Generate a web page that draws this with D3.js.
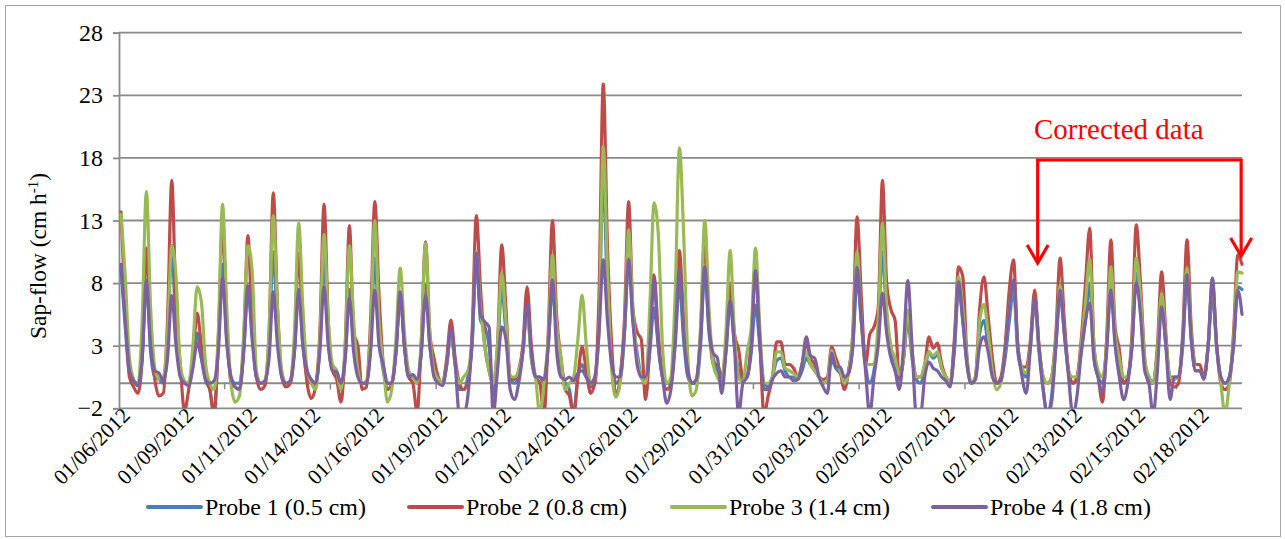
<!DOCTYPE html>
<html>
<head>
<meta charset="utf-8">
<script src="https://cdn.jsdelivr.net/npm/d3@7"></script>
<style>
  html, body { margin: 0; padding: 0; background: #fff; }
  svg { display: block; }
</style>
</head>
<body>
<svg id="chart" width="1285" height="539"></svg>
<script>
// Sap-flow readings, one sample every 4 hours starting 01/06/2012.
const tickLabels = ["01/06/2012", "01/09/2012", "01/11/2012", "01/14/2012", "01/16/2012", "01/19/2012",
  "01/21/2012", "01/24/2012", "01/26/2012", "01/29/2012", "01/31/2012", "02/03/2012", "02/05/2012",
  "02/07/2012", "02/10/2012", "02/13/2012", "02/15/2012", "02/18/2012"];
const labelEvery = 15;   // samples between date labels
const tickEvery = 25;    // samples between axis tick marks
const yTicks = [-2, 3, 8, 13, 18, 23, 28];
const seriesNames = ["Probe 1 (0.5 cm)", "Probe 2 (0.8 cm)", "Probe 3 (1.4 cm)", "Probe 4 (1.8 cm)"];
const seriesColors = ["#4A7EBB", "#BE4B48", "#98B954", "#7D60A0"];

const probe1 = [
  9.2, 4.5, 0.8,
  0.2, 0, 2, 8.0, 2.5, 0.5,
  0.3, 0, 3, 11.0, 4, 1,
  0, 0, 1.5, 4.0, 2, 0.2,
  -0.5, -2.5, 3, 9.5, 3.5, 0.5,
  0, 0, 2.5, 7.5, 4, 0.5,
  0, 0, 3, 10.5, 4, 0.8,
  0, 0, 2.5, 7.5, 3, 0.5,
  0, 0, 3, 9.85, 3.5, 1,
  0.8, -0.5, 2, 7.5, 3, 1,
  0, 0, 3, 10.0, 4, 1,
  0, 0, 2.5, 7, 3, 0.5,
  0.5, 0, 2.5, 7.85, 3, 1,
  0.3, 0, 1.5, 4, 1.5, -0.5,
  -0.5, 0.5, 3, 10, 5, 4.5,
  3, -1, 2, 7.6, 4, 0.5,
  0, 0.5, 2.5, 6, 2, 0.5,
  0.5, 0, 3, 7.5, 4, 1.5,
  0, -0.5, -2.5, 0.5, 1.5, 0.5,
  -0.3, 0, 5, 16.4, 7, 2,
  0, 0.5, 4, 10, 5, 2.5,
  0.5, 0, 2.5, 6, 3, 0.5,
  0, 0, 3, 8, 3.5, 0.5,
  0, 0, 3, 9, 4, 2,
  1, 0, 2.5, 6.5, 3, 1,
  0.3, 0.5, 2.5, 6.25, 3, 0,
  -0.3, 0.5, 1.8, 2, 1, 0.5,
  0.5, 0.3, 1.0, 2, 1.5, 1,
  0.5, 0, 0.3, 1.8, 1.2, 0.8,
  0.3, 0.8, 3, 8.25, 5, 1.5,
  0, 1, 4, 10.5, 5, 2.5,
  1, 0.3, 2, 5, 2, 0.3,
  0, 1, 2.5, 2, 2.3, 1.2,
  0.5, 0, 2.5, 7.5, 5, 1.5,
  0, 0.5, 4, 5, 3, 1,
  0, 0.3, 2, 5, 7.5, 2.5,
  1, 0.5, 3, 6.5, 2.5, -0.5,
  -2.5, -1, 3, 7, 4, 1,
  0, 0.5, 2.5, 5, 8, 2,
  0.5, 0, 3, 8, 3.5, 2,
  0, 0.5, 3, 8.8, 6, 1.5,
  0.5, 0, 2.5, 6.5, 3, 0.5,
  0.5, 0.5, 3, 8.5, 3.5, 1,
  1, 0.5, 3, 7, 3, 0.5,
  0, 0.5, 3, 7.7, 7.5
];

const probe2 = [
  13.7, 6.0, 0.5,
  -0.3, -0.8, 2, 10.8, 4, 0.3,
  -1.0, -0.8, 5, 16.2, 6, 1.5,
  -2.2, -0.5, 2, 5.6, 3, 0.5,
  -0.5, -2.5, 3.5, 12.6, 5, 0,
  -0.3, -0.5, 3, 11.8, 4.5, 0.5,
  -0.5, -0.2, 4, 15.2, 6, 0.5,
  -0.3, 0, 3, 10.4, 4, 0,
  -1.2, -0.3, 4, 14.3, 5, 1,
  0.3, -1.5, 3, 12.6, 4, 3,
  -0.5, -0.3, 5, 14.5, 7, 1.5,
  -0.5, 0, 2.5, 7.2, 3, 0.5,
  0, -2.3, 3.5, 11.3, 4, 2,
  0.5, 0, 2, 5.05, 2, 0,
  -0.5, 0, 4, 13.4, 7.5, 3,
  1.0, 0, 3, 11.05, 6, 0.5,
  0.3, 1, 3, 7.7, 3, 0.5,
  0, -2.5, 4, 13.0, 5.3, 2,
  -0.5, -1, -2.5, 0.5, 2.9, 1,
  -0.8, 0, 7, 23.9, 11, 3,
  -1, 0.5, 5, 14.5, 6, 4.1,
  3.5, -1.3, 3, 8.65, 4, 0.5,
  -0.5, 0, 4, 10.6, 5, 1,
  0, 0.3, 4, 11.5, 5, 1.5,
  1.5, 0.5, 3, 8, 4, 2.7,
  0.5, 0.5, 3.5, 9.5, 3.5, -2.5,
  -1, 0.5, 3.3, 3.3, 1.5, 1.5,
  1.2, 0.5, 1.5, 3.2, 2, 1.5,
  0.5, 0.3, 0.5, 2.9, 2, 1,
  -0.5, 1, 4, 13.3, 7, 1.5,
  3.9, 4.5, 6, 16.2, 8, 5.9,
  5, 0.5, 2, 5.8, 2.5, 0.5,
  0.5, 1.5, 3.7, 2.8, 3.2, 1.5,
  0.5, 0, 3.5, 9.3, 8.5, 2,
  0, 0.5, 6, 8.5, 5.3, 2,
  0, 0.5, 3, 7.5, 9.85, 3,
  1.3, 1.3, 3.5, 7.45, 3, 0.5,
  0, 0.5, 4, 10.0, 5, 1,
  0, 0.5, 3.5, 8, 12.4, 3,
  0.5, -1.5, 3.5, 11.45, 4.5, 2.7,
  0, 0.5, 4, 12.65, 8, 2,
  0, 0, 3, 8.9, 4, 0,
  -0.3, 0, 4, 11.45, 4.5, 1.5,
  1.5, 0.5, 3, 8.0, 3, 0,
  -0.5, 0, 4, 10.25, 9.5
];

const probe3 = [
  13.5, 8.5, 2.0,
  0.3, -0.2, 5, 15.3, 6, 1.2,
  0.3, 0.5, 4, 11.0, 8.5, 1.5,
  0.2, 0, 3, 7.7, 6.5, 1.5,
  0, -0.5, 4, 14.3, 6, 0,
  -1.5, -1.0, 4, 11.0, 9, 1.0,
  0, 0.2, 4, 13.4, 6, 1,
  0, 0.2, 4, 12.8, 6, 1,
  0, -0.5, 3.5, 11.9, 5, 1.5,
  1, -0.5, 3, 11.0, 5, 1,
  0, 0.2, 4, 13.0, 5, 1.5,
  -1.5, -0.5, 3.5, 9.2, 4, 1,
  0.5, 0, 3.5, 11.2, 4, 1,
  0.3, 0, 1.5, 4, 1.5, 0,
  0.5, 1.0, 3.5, 10.5, 6, 3,
  1, 0, 3, 8.8, 5, 0.5,
  0.5, 1, 2.5, 6, 2, 0.5,
  -2.5, 0, 3.5, 10.25, 4.5, 2,
  -0.5, 0, 0.5, 3.5, 7.05, 3,
  0, 0.5, 4, 18.9, 9, 1,
  -1.1, 0, 4, 12.25, 6, 2,
  0.5, 0, 6, 14.4, 12, 3,
  0, 0.5, 7, 18.8, 12, 2,
  -1, -0.5, 4.5, 13.0, 6, 1.5,
  0.5, 0, 4, 10.6, 4, 0.5,
  0, 2.5, 4.5, 10.8, 4.5, 0,
  0, 0.5, 2.5, 2.5, 1.2, 1,
  0.8, 0.5, 1.5, 2.5, 1.5, 1,
  0.5, 0, 0.3, 2.6, 1.5, 1,
  0, 0.8, 4, 10.5, 5, 1.5,
  1.5, 1.5, 5, 12.8, 6, 3,
  2, 0.7, 2, 5.85, 2.5, 0.5,
  0.5, 1.5, 2.5, 2.2, 2.5, 1.2,
  0.5, 0, 3, 8.5, 6, 2,
  0, 0.5, 5, 6.3, 4, 1,
  -0.5, 0, 2.5, 6, 8.2, 3,
  1.2, 0.8, 3, 6.8, 3, 0.5,
  0, 0.5, 3.5, 7.85, 4, 1,
  0.5, 0.5, 3, 6.5, 9.9, 3,
  1, 0.5, 3, 9.3, 4, 2,
  0.5, 0.5, 3.5, 10.0, 7, 2,
  0.5, 0, 2.5, 7.2, 3.5, 0.5,
  0.3, 0.5, 3.5, 9.2, 4, 1,
  1, 0.5, 3, 8.3, 3, 0,
  -2.5, 0, 3.5, 8.9, 8.8
];

const probe4 = [
  9.5, 5.0, 1.0,
  0.2, -0.2, 2, 8.2, 3, 1.0,
  0.8, 0.2, 2, 7.0, 3, 0.5,
  0, -0.2, 1.2, 3.2, 2, 0.3,
  0, 0.2, 2.5, 8.4, 3.2, 0.5,
  -0.3, -0.5, 2.5, 7.8, 3.5, 0.5,
  0, 0.2, 2, 7.3, 3, 0.5,
  0, 0.2, 2.5, 7.3, 3, 1,
  0.3, 0, 2.5, 7.7, 3, 1,
  0.9, 0, 2, 6.8, 2.5, 0.5,
  0, 0, 2.5, 7.45, 3, 1.5,
  0, 0, 2.5, 7.3, 3, 0.5,
  0.7, 0.3, 2.5, 7.05, 3, 0.5,
  0, -0.2, 1.5, 4.4, 1.5, -2.5,
  -2.5, -1, 3.5, 10.4, 5.5, 4.9,
  4.5, -2.5, 1, 4.5, 3.5, -0.5,
  -1.3, 0, 2.5, 6.3, 2.5, 0.5,
  0.5, 0.3, 3, 8.25, 2.5, 0.5,
  0.3, 0.5, 0.2, 0.8, 1.0, 0.5,
  0, 0.5, 4, 9.85, 5, 1.5,
  0.5, 0.5, 4, 9.85, 5, 1.5,
  0.5, 0.5, 3, 8.25, 3, 0.5,
  -1.6, -0.5, 3.5, 9.05, 4, 1,
  0, 0.3, 3.5, 9.3, 4.5, 2.4,
  2.0, -0.8, 2.5, 6.65, 3, -2.5,
  0, 0.5, 3, 9.0, 3.5, -0.5,
  -0.5, 0.3, 0.8, 1.0, 0.5, 0.5,
  0.2, 0.3, 1.5, 3.7, 2.2, 2.0,
  0.5, -0.3, -0.8, 2.4, 1.3, 1.3,
  0.5, 0.8, 3, 9.25, 5, 1,
  -2.5, 0.5, 3, 7.2, 4, 2,
  1, -0.5, 3, 8.2, 3, -2.5,
  -2.5, 0.5, 1.7, 1.2, 1.0, 0.5,
  0.2, -0.3, 3, 8.1, 5, 1.5,
  0, 0.3, 3, 3.7, 2.5, 0.5,
  0, 0.2, 2.5, 6, 8.25, 3,
  0.5, -0.8, 3, 6.8, 3, -0.5,
  -2.5, -1.5, 3, 7.45, 4, 0.5,
  -2.5, -1, 2.5, 5, 6.4, 2,
  0.5, -0.8, 2.5, 7.45, 3, 0.5,
  -1.3, 0, 3, 8.0, 5.5, 1,
  0, -2.5, 1, 6.1, 3, -1.3,
  0.5, 0.5, 3.5, 8.65, 3.5, 1,
  1, 0.3, 3, 8.4, 3, 0.5,
  0, 0.5, 3, 7.45, 5.5
];

const allSeries = [probe1, probe2, probe3, probe4];
const nSamples = probe1.length;

// Pick the first installed Times-like face; size all text relative to it.
function installed(name) {
  const ctx = document.createElement("canvas").getContext("2d");
  const s = "Probe 1 (0.5 cm) Sap-flow Corrected data 0123456789";
  for (const base of ["monospace", "sans-serif"]) {
    ctx.font = `40px ${base}`;
    const w0 = ctx.measureText(s).width;
    ctx.font = `40px "${name}", ${base}`;
    if (Math.abs(ctx.measureText(s).width - w0) > 0.5) return true;
  }
  return false;
}
const faceName = ["Liberation Serif", "Times New Roman", "Tinos", "Nimbus Roman", "DejaVu Serif", "Noto Serif"]
  .find(installed) || "serif";
const font = faceName === "serif" ? "serif" : `"${faceName}", serif`;
const fontScale = (() => {
  const ctx = document.createElement("canvas").getContext("2d");
  ctx.font = `24px ${font}`;
  return 161 / ctx.measureText("Probe 1 (0.5 cm)").width;
})();
const fs = px => px * fontScale;

const svg = d3.select("#chart");

// outer chart frame
svg.append("rect").attr("x", 5.5).attr("y", 5.5).attr("width", 1275).attr("height", 531)
  .attr("fill", "#fff").attr("stroke", "#a6a6a6").attr("stroke-width", 1);

const plot = { left: 119, right: 1242, top: 32.7, bottom: 408.3 };

const x = d3.scaleLinear().domain([0, nSamples - 1]).range([121, plot.right]);
const y = d3.scaleLinear().domain([-2, 28]).range([plot.bottom, plot.top]);

// horizontal gridlines
svg.append("g").selectAll("line").data(yTicks).join("line")
  .attr("x1", plot.left).attr("x2", plot.right)
  .attr("y1", d => y(d)).attr("y2", d => y(d))
  .attr("stroke", "#8a8a8a").attr("stroke-width", 1.8);

// value axis
const yAxis = svg.append("g").attr("transform", `translate(${plot.left},0)`)
  .call(d3.axisLeft(y).tickValues(yTicks).tickSize(6).tickPadding(10).tickFormat(d3.format("d")));
yAxis.select(".domain").attr("stroke", "#8a8a8a").attr("stroke-width", 1.8);
yAxis.selectAll(".tick line").attr("stroke", "#8a8a8a").attr("stroke-width", 1.8);
yAxis.selectAll(".tick text").attr("font-family", font).attr("font-size", fs(24)).attr("fill", "#000");

// horizontal axis crossing at zero, with tick marks every tickEvery samples
const tickPos = d3.range(1, Math.floor(nSamples / tickEvery) + 1).map(n => n * tickEvery - 0.5);
svg.append("line").attr("x1", plot.left).attr("x2", plot.right)
  .attr("y1", y(0)).attr("y2", y(0)).attr("stroke", "#8a8a8a").attr("stroke-width", 1.8);
svg.append("g").selectAll("line").data(tickPos).join("line")
  .attr("x1", d => x(d)).attr("x2", d => x(d))
  .attr("y1", y(0)).attr("y2", y(0) + 6)
  .attr("stroke", "#8a8a8a").attr("stroke-width", 1.5);

// date labels along the bottom of the plot
const labelIdx = tickLabels.map((_, i) => i * labelEvery);
svg.append("g").selectAll("text").data(labelIdx).join("text")
  .attr("transform", d => `translate(${x(d) + 5},${plot.bottom + 3}) rotate(-45)`)
  .attr("text-anchor", "end")
  .attr("dy", "0.35em")
  .attr("font-family", font).attr("font-size", fs(21.5)).attr("fill", "#000")
  .text((d, i) => tickLabels[i]);

// clip the series to the plot area
svg.append("clipPath").attr("id", "plotClip").append("rect")
  .attr("x", plot.left).attr("y", plot.top - 2)
  .attr("width", plot.right - plot.left + 3).attr("height", plot.bottom - plot.top + 2);

const line = d3.line().x((d, i) => x(i)).y(d => y(d)).curve(d3.curveMonotoneX);
svg.append("g").attr("clip-path", "url(#plotClip)")
  .selectAll("path").data(allSeries).join("path")
  .attr("d", d => line(d))
  .attr("fill", "none")
  .attr("stroke", (d, i) => seriesColors[i])
  .attr("stroke-width", 3.2)
  .attr("stroke-linejoin", "round")
  .attr("stroke-linecap", "round");

// value axis title
const yTitle = svg.append("text")
  .attr("transform", "translate(46,256) rotate(-90)")
  .attr("text-anchor", "middle")
  .attr("font-family", font).attr("font-size", fs(23.5)).attr("fill", "#000");
yTitle.append("tspan").text("Sap-flow (cm h");
yTitle.append("tspan").attr("baseline-shift", "super").attr("font-size", fs(15)).text("-1");
yTitle.append("tspan").text(")");

// legend
const legendX = [148, 409, 672, 933];
const legend = svg.append("g").selectAll("g").data(seriesNames).join("g")
  .attr("transform", (d, i) => `translate(${legendX[i]},507)`);
legend.append("line").attr("x1", 0).attr("x2", 53).attr("y1", 0).attr("y2", 0)
  .attr("stroke", (d, i) => seriesColors[i]).attr("stroke-width", 4).attr("stroke-linecap", "round");
legend.append("text").attr("x", 57).attr("y", 8)
  .attr("font-family", font).attr("font-size", fs(24)).attr("fill", "#000")
  .text(d => d);

// "Corrected data" bracket with arrows
const red = "#FF0000";
const bracketLeft = x(216.7), bracketRight = x(264.8);
const ann = svg.append("g").attr("fill", "none").attr("stroke", red).attr("stroke-width", 3.2);
ann.append("path").attr("d",
  `M${bracketLeft},263 L${bracketLeft},160 L${bracketRight},160 L${bracketRight},256`);
ann.append("path").attr("d",
  `M${bracketLeft - 10.5},245 L${bracketLeft},263 L${bracketLeft + 10.5},245`);
ann.append("path").attr("d",
  `M${bracketRight - 10.5},238 L${bracketRight},256 L${bracketRight + 10.5},238`);
svg.append("text").attr("x", 1034).attr("y", 139)
  .attr("font-family", font).attr("font-size", fs(29)).attr("fill", red)
  .text("Corrected data");
</script>
</body>
</html>
